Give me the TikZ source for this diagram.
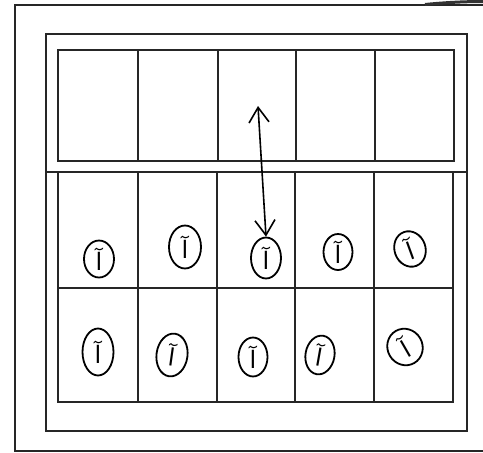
\documentclass[tikz,border=0pt]{standalone}
\usepackage{fontspec}
\newfontfamily\arabicfont[Script=Arabic]{DejaVu Sans}
\TeXXeTstate=1
\usetikzlibrary{shapes.geometric,arrows.meta}
\begin{document}
\begin{tikzpicture}[x=1pt,y=-1pt,
  frame/.style={line width=1.5pt,black!85},
  outerframe/.style={line width=2.2pt,black!85},
  cellline/.style={line width=1.5pt,black!85},
  seat/.style={ellipse,draw,line width=1.8pt,inner sep=0pt,minimum width=27pt,minimum height=36pt,font=\arabicfont\fontsize{24}{24}\selectfont},
  move/.style={line width=1.6pt,{Straight Barb[length=15pt,width=20pt,line width=1.6pt]}-{Straight Barb[length=15pt,width=20pt,line width=1.6pt]}}]
\useasboundingbox[fill=white] (0,0) rectangle (483,453);
% outer frame (cut off at right edge)
\draw[outerframe] (483,5) -- (15,5) -- (15,451) -- (483,451);
\draw[line width=3pt,black!80] (425,4.5) .. controls (445,2.5) and (465,1.5) .. (483,1.5);
% inner frame
\draw[frame] (46,34) rectangle (467,431);
% top row of cells
\draw[cellline] (58,50) rectangle (454,161);
\foreach \x in {138,218,296,375} \draw[cellline] (\x,50) -- (\x,161);
% dividing line
\draw[cellline] (46,172) -- (467,172);
% lower grid
\draw[cellline] (58,172) -- (58,402) -- (453,402) -- (453,172);
\draw[cellline] (58,288) -- (453,288);
\foreach \x in {138,217,295,374} \draw[cellline] (\x,172) -- (\x,402);
% seats row 1
\node[seat,minimum width=30pt,minimum height=37pt] (a1) at (99,259) {\beginR آ\endR};
\node[seat,minimum width=32pt,minimum height=43pt] (a2) at (185,247) {\beginR آ\endR};
\node[seat,minimum width=30pt,minimum height=41pt] (a3) at (266,258) {\beginR آ\endR};
\node[seat,minimum width=29pt,minimum height=36pt] (a4) at (338,252) {\beginR آ\endR};
\node[seat,minimum width=31pt,minimum height=36pt,rotate=20] (a5) at (410,249) {\beginR آ\endR};
% seats row 2
\node[seat,minimum width=31pt,minimum height=47pt] (b1) at (98,352) {\beginR آ\endR};
\node[seat,minimum width=31pt,minimum height=43pt,rotate=-8] (b2) at (172,355) {\beginR آ\endR};
\node[seat,minimum width=29pt,minimum height=39pt] (b3) at (253,357) {\beginR آ\endR};
\node[seat,minimum width=29pt,minimum height=39pt,rotate=-10] (b4) at (320,355) {\beginR آ\endR};
\node[seat,minimum width=35pt,minimum height=37pt,rotate=30] (b5) at (405,347) {\beginR آ\endR};
% double arrow
\coordinate (up) at (258,106);
\draw[move] (up) -- (a3.north);
\end{tikzpicture}
\end{document}
